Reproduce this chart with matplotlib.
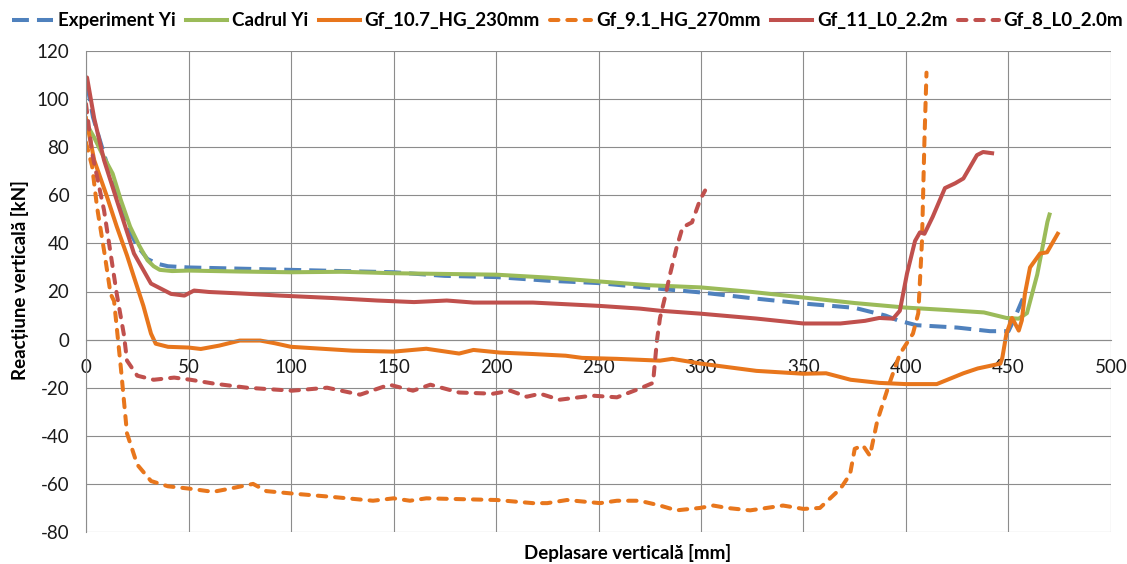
import matplotlib
matplotlib.use("Agg")
import matplotlib.pyplot as plt

plt.rcParams['font.family'] = ['Lato', 'DejaVu Sans']
plt.rcParams['axes.unicode_minus'] = False

# Experiment Yi
exp_x = [0, 1, 3.4, 7.8, 12, 16, 20, 25, 30, 35, 40, 50, 75, 100, 125, 150, 175, 200, 225, 250,
         275, 300, 325, 350, 375, 390, 396, 405, 425, 441, 450, 453, 457]
exp_y = [106, 104, 92.5, 80, 68, 57, 47, 39, 33.5, 31.5, 30.5, 30, 29.5, 29, 28.5, 28, 26.5, 26, 24.5, 23.5,
         21.5, 19.6, 17.2, 15, 13.2, 10, 8, 6, 5, 3.5, 3.5, 9, 17]

# Cadrul Yi
cad_x = [0, 4, 8, 13, 17, 21.5, 26, 30, 33, 36, 42, 50, 75, 100, 125, 150, 175, 200, 225, 250, 275,
         300, 325, 350, 375, 400, 420, 438, 449, 455, 459, 464, 469, 470]
cad_y = [90, 84, 77, 69, 58, 47, 39, 33, 30.5, 29, 28.5, 28.7, 28.3, 28, 28.2, 27.6, 27.3, 27, 25.8, 24.2, 22.6,
         21.7, 19.8, 17.5, 15.2, 13.3, 12.3, 11.3, 9, 8.7, 11, 27, 49, 52]

# Gf_10.7_HG_230mm
g107_x = [0, 4, 10, 15, 20, 23.4, 28, 31.7, 34, 40, 50, 56, 65, 75, 85, 92, 100, 115, 130, 150, 166, 182,
          189, 202, 218, 234, 242, 259, 280, 286, 300, 327, 350, 361, 373, 387, 400, 415, 428, 435, 446,
          447, 449, 451.7, 453, 455, 456.5, 458, 460.5, 465.4, 468.8, 474]
g107_y = [92, 74.6, 60, 47, 35, 26, 14, 2.5, -1.7, -3, -3.3, -3.9, -2.5, -0.4, -0.4, -1.5, -3, -3.8, -4.6, -5, -3.8,
          -5.8, -4.3, -5.4, -6, -6.7, -7.6, -8, -8.75, -8, -10, -13, -14.2, -14, -16.7, -18, -18.5, -18.5, -14,
          -12, -10, -7.5, 2.5, 9, 7, 3.75, 8, 19, 30, 35.8, 36.3, 44]

# Gf_9.1_HG_270mm
g91_x = [0, 3, 5.4, 9, 12, 13.7, 17, 20, 25, 31.7, 40, 50.7, 62, 70, 81.5, 88, 100.5, 120, 140, 150, 158,
         166, 200.5, 218, 225, 234.6, 250.7, 259, 270, 280, 288, 299.5, 306, 312.7, 324, 340, 350, 358,
         368, 372.7, 375, 379, 382.4, 386, 392, 397, 403.4, 406, 407.8, 409, 410]
g91_y = [82, 72, 55, 36, 19, 16, -11.7, -39, -52, -58.8, -61, -62, -63.3, -62, -60, -63, -64, -65.4, -67, -66, -67,
         -66, -66.7, -68, -68, -66.7, -68, -67, -67, -69, -71, -70, -69, -70, -71, -69, -70.4, -70,
         -62, -56, -45.4, -44, -48.3, -33.75, -18, -6, 2.5, 11, 41, 83, 111]

# Gf_11_L0_2.2m
g11_x = [0, 0.5, 4, 8.8, 15, 23.4, 31.7, 41.5, 48, 52.7, 60, 75, 94.6, 120, 142, 160, 176, 189, 218, 250.7,
         270, 280, 299.5, 327, 350, 368, 380, 387, 393.7, 397, 400.5, 404.4, 406.8, 409, 413, 419, 424,
         428, 434.6, 437.6, 442]
g11_y = [108, 109, 92, 74.6, 58, 35.8, 23.3, 19, 18.3, 20.4, 19.8, 19.2, 18.3, 17.3, 16.25, 15.6, 16.25, 15.4, 15.4, 14,
         12.9, 12, 10.8, 8.75, 6.7, 6.7, 7.8, 9, 8.7, 12, 27.5, 41, 44.6, 44, 51, 63, 65,
         67, 76.7, 78, 77.5]

# Gf_8_L0_2.0m
g8_x = [0, 3, 8.8, 15, 18.5, 20, 25, 33, 43, 51, 62.4, 78.5, 100.5, 117.6, 133.7, 148, 159.5, 168, 182,
        198.5, 207, 215, 221.5, 231, 247, 259, 270, 276.6, 278.5, 280, 282.4, 285, 288, 291, 295.6,
        299.5, 302]
g8_y = [98, 77.5, 53.75, 19, 2, -8.75, -15, -16.7, -15.8, -16.7, -18.3, -20, -21.25, -20, -22.9, -18.75, -21.25,
        -18.75, -22, -22.5, -21.25, -23.75, -22.5, -25, -23.3, -24, -20.4, -18, -0.4, 9, 17.5, 27.5, 38, 46.7,
        48.75, 58, 62]

labels = ["Experiment Yi", "Cadrul Yi", "Gf_10.7_HG_230mm", "Gf_9.1_HG_270mm",
          "Gf_11_L0_2.2m", "Gf_8_L0_2.0m"]
x_ticks = [0, 50, 100, 150, 200, 250, 300, 350, 400, 450, 500]
y_ticks = [-80, -60, -40, -20, 0, 20, 40, 60, 80, 100, 120]

fig = plt.figure(figsize=(11.27, 5.64), dpi=100)
ax = fig.add_axes([86 / 1127, 1 - 532 / 564, (1111 - 86) / 1127, (532 - 51) / 564])

lw = 2.9
blue, green, orange, red = "#4F81BD", "#9BBB59", "#E8761C", "#C0504D"
ax.plot(exp_x, exp_y, color=blue, lw=lw, dashes=(4.2, 2.0), label=labels[0])
ax.plot(cad_x, cad_y, color=green, lw=lw, label=labels[1], solid_joinstyle='round')
ax.plot(g107_x, g107_y, color=orange, lw=lw, label=labels[2], solid_joinstyle='round')
ax.plot(g91_x, g91_y, color=orange, lw=lw, dashes=(2.1, 2.2), dash_capstyle='round',
        label=labels[3])
ax.plot(g11_x, g11_y, color=red, lw=lw, label=labels[4], solid_joinstyle='round')
ax.plot(g8_x, g8_y, color=red, lw=lw, dashes=(2.1, 2.2), dash_capstyle='round', label=labels[5])

ax.set_xlim(0, 500)
ax.set_ylim(-80, 120)
ax.set_xticks(x_ticks)
ax.set_yticks(y_ticks)
ax.grid(True, color="#8C8C8C", linewidth=0.8)
ax.set_axisbelow(True)

for s in ["top", "right"]:
    ax.spines[s].set_visible(False)
ax.spines["bottom"].set_position(("data", 0))
ax.spines["bottom"].set_color("#8C8C8C")
ax.spines["left"].set_color("#8C8C8C")
ax.tick_params(axis="both", length=0, labelsize=13.5, colors="#1a1a1a")
ax.tick_params(axis="x", pad=14)
ax.tick_params(axis="y", pad=12)

fig.text(628 / 1127, 1 - 553 / 564, "Deplasare verticală [mm]", ha="center", va="center",
         fontsize=13.5, fontweight="bold")
fig.text(20 / 1127, 1 - 280 / 564, "Reacțiune verticală [kN]", ha="center", va="center",
         rotation=90, fontsize=13.5, fontweight="bold")

fig.legend(loc="upper left", bbox_to_anchor=(0.0, 1.0), ncol=6, frameon=False,
           prop={"size": 13.5, "weight": "bold"}, handlelength=2.2, handletextpad=0.25,
           columnspacing=0.55, borderaxespad=0.25)

fig.savefig("out.png", dpi=100)
